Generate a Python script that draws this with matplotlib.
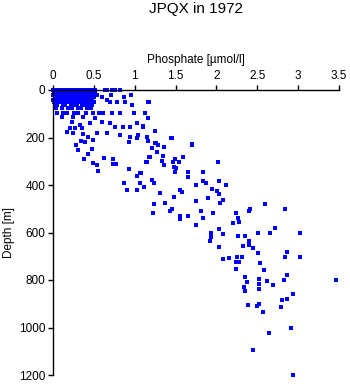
import numpy as np
import matplotlib.pyplot as plt

plt.rcParams['font.family'] = ['Liberation Sans', 'DejaVu Sans']

# surface block: phosphate values per sampling depth
block_depths = [0, 10, 20, 30, 40, 50, 63, 75, 95]
block_po4 = [
    [0.0, 0.03, 0.06, 0.09, 0.12, 0.15, 0.18, 0.21, 0.24, 0.27, 0.30, 0.33, 0.36, 0.39, 0.42, 0.45, 0.48, 0.51, 0.64, 0.66, 0.72, 0.76, 0.82],
    [0.01, 0.04, 0.07, 0.10, 0.13, 0.16, 0.19, 0.22, 0.25, 0.28, 0.31, 0.34, 0.37, 0.40, 0.43, 0.46, 0.49, 0.52],
    [0.0, 0.03, 0.06, 0.09, 0.12, 0.15, 0.18, 0.21, 0.24, 0.27, 0.30, 0.33, 0.36, 0.39, 0.42, 0.45, 0.48, 0.51, 0.54, 0.71, 0.95],
    [0.02, 0.05, 0.08, 0.11, 0.14, 0.17, 0.20, 0.23, 0.26, 0.29, 0.32, 0.35, 0.38, 0.41, 0.44, 0.47, 0.50, 0.60, 0.87],
    [0.0, 0.03, 0.06, 0.09, 0.12, 0.15, 0.18, 0.21, 0.24, 0.27, 0.30, 0.33, 0.36, 0.39, 0.42, 0.45, 0.48, 0.66],
    [0.01, 0.04, 0.07, 0.10, 0.13, 0.16, 0.19, 0.22, 0.25, 0.28, 0.31, 0.34, 0.37, 0.40, 0.43, 0.46, 0.50, 0.70, 0.78, 0.88, 1.16, 1.18],
    [0.02, 0.05, 0.12, 0.15, 0.22, 0.26, 0.29, 0.36, 0.40, 0.44, 0.48, 0.97],
    [0.04, 0.11, 0.18, 0.23, 0.30, 0.34, 0.42, 0.47],
    [0.05, 0.12, 0.17, 0.26, 0.31, 0.40, 0.49, 0.56, 0.61, 0.72, 0.82, 0.99, 1.13],
]

# deeper scattered samples
deep_po4 = [
    0.11, 0.24, 0.37, 0.51, 1.16, 0.23, 0.45, 0.60, 0.70, 1.03, 0.33, 0.76, 0.86, 0.94, 1.10,
    1.25, 0.21, 0.27, 0.35, 0.17, 0.24, 0.37, 0.54, 0.66, 0.82, 0.94, 1.03, 1.04, 1.15, 1.46,
    1.25, 1.29, 0.43, 0.28, 0.34, 0.39, 0.49, 0.31, 0.48, 0.43, 0.38, 0.49, 0.54, 0.55, 0.62,
    0.73, 0.73, 0.77, 0.93, 0.93, 1.06, 1.03, 1.15, 1.18, 0.87, 0.91, 1.03, 1.06, 1.11, 1.16,
    1.26, 1.21, 1.27, 1.36, 1.35, 1.19, 1.14, 1.33, 1.36, 1.47, 1.49, 1.54, 1.59, 1.48, 1.51,
    1.49, 1.65, 1.65, 1.70, 1.84, 2.02, 1.84, 1.87, 1.75, 1.95, 2.01, 2.03, 2.12, 2.03, 1.08,
    1.21, 1.24, 1.31, 1.55, 1.58, 1.48, 1.75, 1.90, 2.08, 2.04, 1.24, 1.37, 1.46, 1.43, 1.22,
    1.55, 1.65, 1.55, 1.81, 1.96, 1.84, 2.24, 2.26, 2.40, 1.75, 2.20, 2.28, 2.72, 2.66, 2.51,
    2.35, 2.26, 2.03, 2.08, 1.93, 1.93, 1.92, 2.40, 2.40, 2.45, 2.33, 2.03, 2.51, 2.53, 2.58,
    2.31, 2.25, 2.15, 2.08, 2.24, 2.28, 2.24, 2.35, 2.37, 2.34, 2.52, 2.52, 2.52, 2.62, 2.69,
    2.41, 2.59, 2.84, 3.02, 2.86, 2.84, 3.02, 2.83, 2.86, 3.46, 2.94, 2.80, 2.86, 2.79, 2.39,
    2.50, 2.52, 2.35, 2.57, 2.64, 2.91, 2.45, 2.94, 1.44, 1.70, 1.10,
]
deep_depth = [
    114, 114, 114, 118, 118, 135, 139, 135, 139, 139, 147, 156, 156, 156, 156,
    173, 160, 160, 160, 177, 181, 185, 181, 181, 189, 198, 202, 189, 198, 202,
    223, 232, 198, 232, 215, 219, 210, 253, 248, 269, 290, 307, 316, 341, 286,
    290, 312, 312, 219, 333, 349, 362, 303, 282, 392, 421, 421, 392, 408, 215,
    223, 244, 261, 240, 278, 282, 303, 299, 316, 303, 290, 303, 282, 324, 328,
    345, 345, 366, 232, 345, 303, 383, 392, 400, 417, 425, 438, 400, 383, 349,
    379, 392, 434, 421, 429, 450, 467, 455, 463, 476, 480, 476, 501, 509, 518,
    530, 530, 543, 509, 518, 539, 518, 539, 509, 568, 560, 556, 581, 602, 602,
    615, 615, 585, 606, 602, 619, 636, 636, 653, 665, 657, 661, 686, 728, 758,
    703, 703, 707, 711, 724, 724, 754, 787, 808, 829, 796, 817, 838, 804, 821,
    501, 480, 501, 602, 682, 703, 703, 800, 779, 800, 859, 884, 880, 914, 905,
    909, 901, 846, 935, 1023, 1002, 1095, 1200, 202, 227, 152,
]

po4 = np.concatenate([np.array(v) for v in block_po4] + [np.array(deep_po4)])
depth = np.concatenate([np.full(len(v), d) for d, v in zip(block_depths, block_po4)] + [np.array(deep_depth)])

x_ticks = [0, 0.5, 1, 1.5, 2, 2.5, 3, 3.5]
x_labels = ['0', '0.5', '1', '1.5', '2', '2.5', '3', '3.5']
y_ticks = [0, 200, 400, 600, 800, 1000, 1200]

fig = plt.figure(figsize=(3.5, 3.84), dpi=100)
ax = fig.add_axes([53/350, 1 - 375/384, 286/350, 285/384])
ax.plot(po4, depth, 's', color='#0000ff', markersize=2.2, markeredgewidth=0, clip_on=False)

ax.set_xlim(0, 3.5)
ax.set_ylim(1200, 0)
ax.xaxis.tick_top()
ax.xaxis.set_label_position('top')
ax.set_xticks(x_ticks)
ax.set_xticklabels(x_labels)
ax.set_yticks(y_ticks)
ax.spines['right'].set_visible(False)
ax.spines['bottom'].set_visible(False)
for s in ['left', 'top']:
    ax.spines[s].set_linewidth(1.0)
ax.tick_params(axis='both', direction='out', length=3.6, width=1.0, labelsize=8.5, pad=2)
ax.set_xlabel('Phosphate [µmol/l]', fontsize=8.5, labelpad=5)
ax.set_ylabel('Depth [m]', fontsize=8.5, labelpad=3)

fig.text(196/350, 1 - 9/384, 'JPQX in 1972', fontsize=11, ha='center', va='center')

fig.savefig('out.png', dpi=100)
